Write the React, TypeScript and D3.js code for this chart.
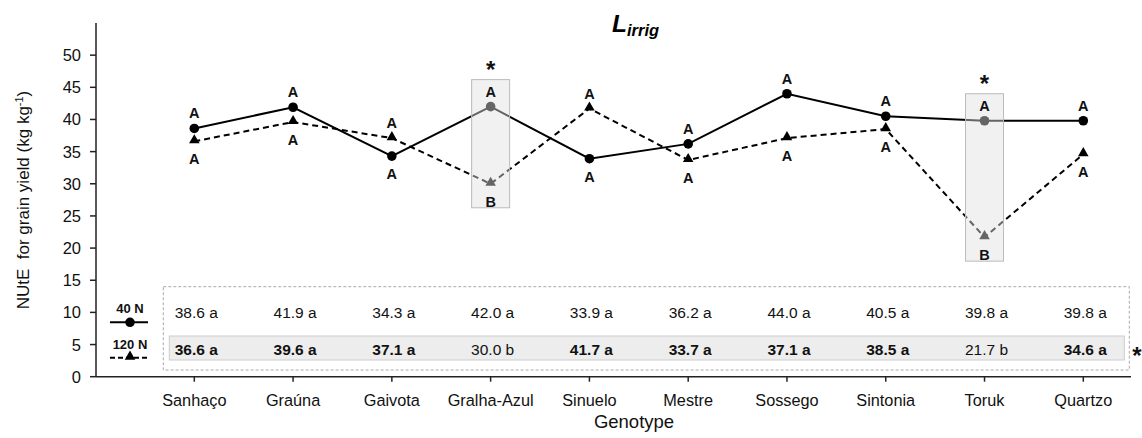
import React from 'react';
import * as d3 from 'd3';

const genotypes = ['Sanhaço', 'Graúna', 'Gaivota', 'Gralha-Azul', 'Sinuelo', 'Mestre', 'Sossego', 'Sintonia', 'Toruk', 'Quartzo'];
const nute40 = [38.6, 41.9, 34.3, 42.0, 33.9, 36.2, 44.0, 40.5, 39.8, 39.8];
const nute120 = [36.6, 39.6, 37.1, 30.0, 41.7, 33.7, 37.1, 38.5, 21.7, 34.6];
const letters40 = ['A', 'A', 'A', 'A', 'A', 'A', 'A', 'A', 'A', 'A'];
const letters120 = ['A', 'A', 'A', 'B', 'A', 'A', 'A', 'A', 'B', 'A'];
const rowLetters40 = ['a', 'a', 'a', 'a', 'a', 'a', 'a', 'a', 'a', 'a'];
const rowLetters120 = ['a', 'a', 'a', 'b', 'a', 'a', 'a', 'a', 'b', 'a'];
const nDiffers = [false, false, false, true, false, false, false, false, true, false];
const yTicks = [0, 5, 10, 15, 20, 25, 30, 35, 40, 45, 50];

const FONT = '"Liberation Sans", Arial, sans-serif';

export default function App() {
  const W = 1142, H = 438;
  const axisX = 96, axisRight = 1131;
  const x = d3.scalePoint<string>().domain(genotypes).range([194.3, 1083.3]);
  const y = d3.scaleLinear().domain([0, 55]).range([376.7, 23]);
  const y0 = y(0);

  const line = d3.line<number>()
    .x((_, i) => x(genotypes[i]) as number)
    .y(d => y(d));

  const tri = d3.symbol().type(d3.symbolTriangle).size(48)();

  return (
    <svg width={W} height={H} style={{ position: 'absolute', left: 0, top: 0, background: '#fff' }} fontFamily={FONT}>
      {/* title */}
      <text x={612} y={31.5} fontSize={24.5} fontWeight="bold" fontStyle="italic" fill="#000">
        L<tspan fontSize={16.5} dy={4.5}>irrig</tspan>
      </text>

      {/* y axis */}
      <line x1={axisX} x2={axisX} y1={y(55)} y2={y0} stroke="#222" strokeWidth={1.5} />
      {yTicks.map(t => (
        <g key={t}>
          <line x1={axisX - 6} x2={axisX} y1={y(t)} y2={y(t)} stroke="#222" strokeWidth={1.5} />
          <text x={81} y={y(t) + 6} fontSize={16.5} textAnchor="end" fill="#111">{t}</text>
        </g>
      ))}
      <text transform={`translate(29, 200) rotate(-90)`} fontSize={17} textAnchor="middle" fill="#111">
        {'NUtE\u00a0\u00a0for grain yield (kg kg'}<tspan fontSize={11} dy={-6}>-1</tspan><tspan dy={6}>)</tspan>
      </text>

      {/* x axis */}
      <line x1={axisX} x2={axisRight} y1={y0} y2={y0} stroke="#222" strokeWidth={1.5} />
      {genotypes.map(g => (
        <g key={g}>
          <line x1={x(g)} x2={x(g)} y1={y0} y2={y0 + 5} stroke="#222" strokeWidth={1.5} />
          <text x={x(g)} y={406} fontSize={16.3} textAnchor="middle" fill="#111">{g}</text>
        </g>
      ))}
      <text x={634} y={428} fontSize={18.5} textAnchor="middle" fill="#111">Genotype</text>

      {/* lines */}
      <path d={line(nute40) || ''} fill="none" stroke="#000" strokeWidth={2} />
      <path d={line(nute120) || ''} fill="none" stroke="#000" strokeWidth={2} strokeDasharray="6,4" />
      {nute40.map((v, i) => (
        <circle key={'c' + i} cx={x(genotypes[i])} cy={y(v)} r={4.8} fill="#000" />
      ))}
      {nute120.map((v, i) => (
        <path key={'t' + i} d={tri || ''} transform={`translate(${x(genotypes[i])},${y(v) - 1})`} fill="#000" />
      ))}

      {/* highlight boxes */}
      {genotypes.map((g, i) => {
        if (!nDiffers[i]) return null;
        const top = y(Math.max(nute40[i], nute120[i])) - 27;
        const bot = y(Math.min(nute40[i], nute120[i])) + 24;
        return (
          <g key={'h' + i}>
            <rect x={(x(g) as number) - 19} y={top} width={38} height={bot - top}
              fill="rgba(225,225,225,0.45)" stroke="#bbb" strokeWidth={1} />
            <text x={x(g)} y={top - 2} fontSize={24} fontWeight="bold" textAnchor="middle" fill="#111">*</text>
          </g>
        );
      })}

      {/* letters */}
      {genotypes.map((g, i) => {
        const hi40 = nute40[i] >= nute120[i];
        const p40 = y(nute40[i]), p120 = y(nute120[i]);
        return (
          <g key={'l' + i} fontSize={14.5} fontWeight="bold" textAnchor="middle" fill="#111">
            <text x={x(g)} y={hi40 ? p40 - 10 : p40 + 23}>{letters40[i]}</text>
            <text x={x(g)} y={hi40 ? p120 + 23 : p120 - 10}>{letters120[i]}</text>
          </g>
        );
      })}

      {/* table */}
      <rect x={163.3} y={286.7} width={966} height={83.3} fill="none" stroke="#aaa" strokeWidth={1} strokeDasharray="3,2" />
      <rect x={169.3} y={336} width={955} height={24} fill="#ededed" stroke="#ccc" strokeWidth={1} />
      {genotypes.map((g, i) => (
        <g key={'r' + i} fontSize={15.5} textAnchor="middle" fill="#111">
          <text x={(x(g) as number) + 2} y={318}>{nute40[i].toFixed(1)} {rowLetters40[i]}</text>
          <text x={(x(g) as number) + 2} y={355} fontWeight={rowLetters120[i] === 'a' ? 'bold' : 'normal'}>
            {nute120[i].toFixed(1)} {rowLetters120[i]}
          </text>
        </g>
      ))}
      <text x={1137} y={364} fontSize={24} fontWeight="bold" textAnchor="middle" fill="#111">*</text>

      {/* legend */}
      <text x={130} y={313} fontSize={13} fontWeight="bold" textAnchor="middle" fill="#111">40 N</text>
      <line x1={110} x2={148} y1={322.3} y2={322.3} stroke="#000" strokeWidth={2} />
      <circle cx={130} cy={322.3} r={4.8} fill="#000" />
      <text x={130} y={349} fontSize={13} fontWeight="bold" textAnchor="middle" fill="#111">120 N</text>
      <line x1={110} x2={148} y1={357.7} y2={357.7} stroke="#000" strokeWidth={2} strokeDasharray="5,3" />
      <path d={tri || ''} transform="translate(130,356.7)" fill="#000" />
    </svg>
  );
}
